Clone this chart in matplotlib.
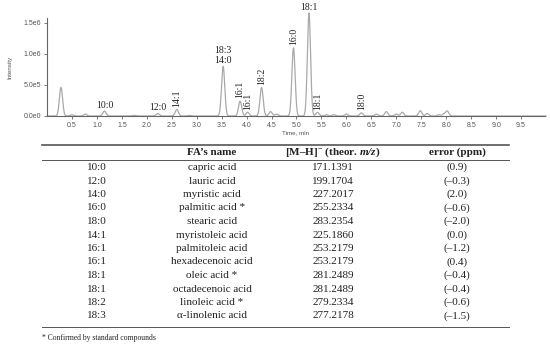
import numpy as np
import matplotlib
matplotlib.use("Agg")
import matplotlib.pyplot as plt

plt.rcParams['font.family'] = ['Liberation Serif', 'DejaVu Serif']
plt.rcParams['mathtext.fontset'] = 'custom'
plt.rcParams['mathtext.rm'] = 'Liberation Serif'
plt.rcParams['mathtext.it'] = 'Liberation Serif:italic'
plt.rcParams['mathtext.bf'] = 'Liberation Serif:bold'
plt.rcParams['mathtext.bfit'] = 'Liberation Serif:bold:italic'

# chromatogram peaks (retention time, min ; intensity)
peak_rt = [0.28, 0.50, 0.77, 1.15, 1.75, 2.22, 2.60, 2.85, 3.53, 3.87, 4.02, 4.30,
           4.48, 4.60, 4.94, 5.25, 5.42, 5.60, 5.75, 6.00, 6.30, 6.60, 6.80, 7.00,
           7.12, 7.48, 7.62, 7.85, 7.95, 8.02]
peak_h = [4.6e5, 0.2e5, 0.3e5, 0.8e5, 0.1e5, 0.4e5, 1.05e5, 0.1e5, 8.0e5, 2.4e5, 0.6e5, 4.6e5,
          0.7e5, 0.3e5, 1.1e6, 1.66e6, 0.6e5, 0.2e5, 0.2e5, 0.3e5, 0.5e5, 0.3e5, 0.7e5, 0.3e5,
          0.6e5, 0.85e5, 0.4e5, 0.2e5, 0.3e5, 0.8e5]

# peak labels: (text, peak index, rotated?)
labels = [("10:0", 3, False), ("12:0", 5, False), ("14:1", 6, True),
          ("18:3\n14:0", 8, False), ("16:1", 9, True), ("16:1", 10, True),
          ("18:2", 11, True), ("16:0", 14, True), ("18:1", 15, False),
          ("18:1", 16, True), ("18:0", 20, True)]

# table
col_headers = ["", "FA\u2019s name", "[M\u2013H]$^{-}$ (theor. $\\mathbfit{m/z}$)", "error (ppm)"]
fa_code = ["10:0", "12:0", "14:0", "16:0", "18:0", "14:1", "16:1", "16:1",
           "18:1", "18:1", "18:2", "18:3"]
fa_name = ["capric acid", "lauric acid", "myristic acid", "palmitic acid *", "stearic acid",
           "myristoleic acid", "palmitoleic acid", "hexadecenoic acid", "oleic acid *",
           "octadecenoic acid", "linoleic acid *", "\u03b1-linolenic acid"]
mz = ["171.1391", "199.1704", "227.2017", "255.2334", "283.2354", "225.1860",
      "253.2179", "253.2179", "281.2489", "281.2489", "279.2334", "277.2178"]
err = ["(0.9)", "(\u20130.3)", "(2.0)", "(\u20130.6)", "(\u20132.0)", "(0.0)",
       "(\u20131.2)", "(0.4)", "(\u20130.4)", "(\u20130.4)", "(\u20130.6)", "(\u20131.5)"]
footnote = "* Confirmed by standard compounds"

W, H = 550, 349
fig = plt.figure(figsize=(W / 100, H / 100), dpi=100)

# ---- chromatogram ----
ax = fig.add_axes([47 / W, 1 - 116 / H, 498 / W, 98 / H])
t = np.linspace(0, 10, 4001)
sig = np.zeros_like(t)
for rt, h in zip(peak_rt, peak_h):
    sig += h * np.exp(-0.5 * ((t - rt) / 0.032) ** 2)
ax.plot(t, sig, color="#a9a9a9", lw=0.9, clip_on=False)
ax.set_xlim(0, 9.98)
ax.set_ylim(0, 1.58e6)
for s in ["top", "right"]:
    ax.spines[s].set_visible(False)
for s in ["left", "bottom"]:
    ax.spines[s].set_color("#666666")
    ax.spines[s].set_linewidth(0.8)
ax.set_xticks(np.arange(0.5, 10, 0.5))
ax.set_xticklabels([f"{v:.1f}" for v in np.arange(0.5, 10, 0.5)])
ax.set_yticks([0, 5e5, 1e6, 1.5e6])
ax.set_yticklabels(["0.0e0", "5.0e5", "1.0e6", "1.5e6"])
ax.tick_params(length=2, width=0.6, color="#666666", labelsize=5, labelcolor="#555555", pad=2)
for lab in ax.get_xticklabels() + ax.get_yticklabels():
    lab.set_family("Liberation Sans")
ax.set_xlabel("Time, min", fontsize=4.5, family="Liberation Sans", color="#555555", labelpad=1)
ax.set_ylabel("Intensity", fontsize=4.5, family="Liberation Sans", color="#555555", labelpad=8)

for txt, i, rot in labels:
    if rot:
        ax.annotate(txt, (peak_rt[i], peak_h[i]), xytext=(0, 2), textcoords="offset points",
                    rotation=90, ha="center", va="bottom", fontsize=7, color="#222222",
                    annotation_clip=False)
    else:
        ax.annotate(txt, (peak_rt[i], peak_h[i]), xytext=(0, 1), textcoords="offset points",
                    ha="center", va="bottom", fontsize=7, color="#222222", linespacing=1.1,
                    annotation_clip=False)

# ---- table ----
tx = fig.add_axes([0, 0, 1, 1])
tx.set_xlim(0, W)
tx.set_ylim(H, 0)
tx.axis("off")
col_x = [97, 212, 333, 457]
tx.plot([42, 509], [145, 145], color="#555555", lw=1.2)
tx.plot([42, 509], [160, 160], color="#555555", lw=0.7)
tx.plot([42, 509], [327, 327], color="#555555", lw=0.7)
for x, h in zip(col_x, col_headers):
    tx.text(x, 152.5, h, ha="center", va="center", fontsize=8, fontweight="bold", color="#222222")
for i, row in enumerate(zip(fa_code, fa_name, mz, err)):
    y = 167.5 + i * 13.5
    for x, v in zip(col_x, row):
        tx.text(x, y, v, ha="center", va="center", fontsize=8, color="#222222")
tx.text(42, 338, footnote, ha="left", va="center", fontsize=5.5, color="#222222")

fig.savefig("out.png", dpi=100)
